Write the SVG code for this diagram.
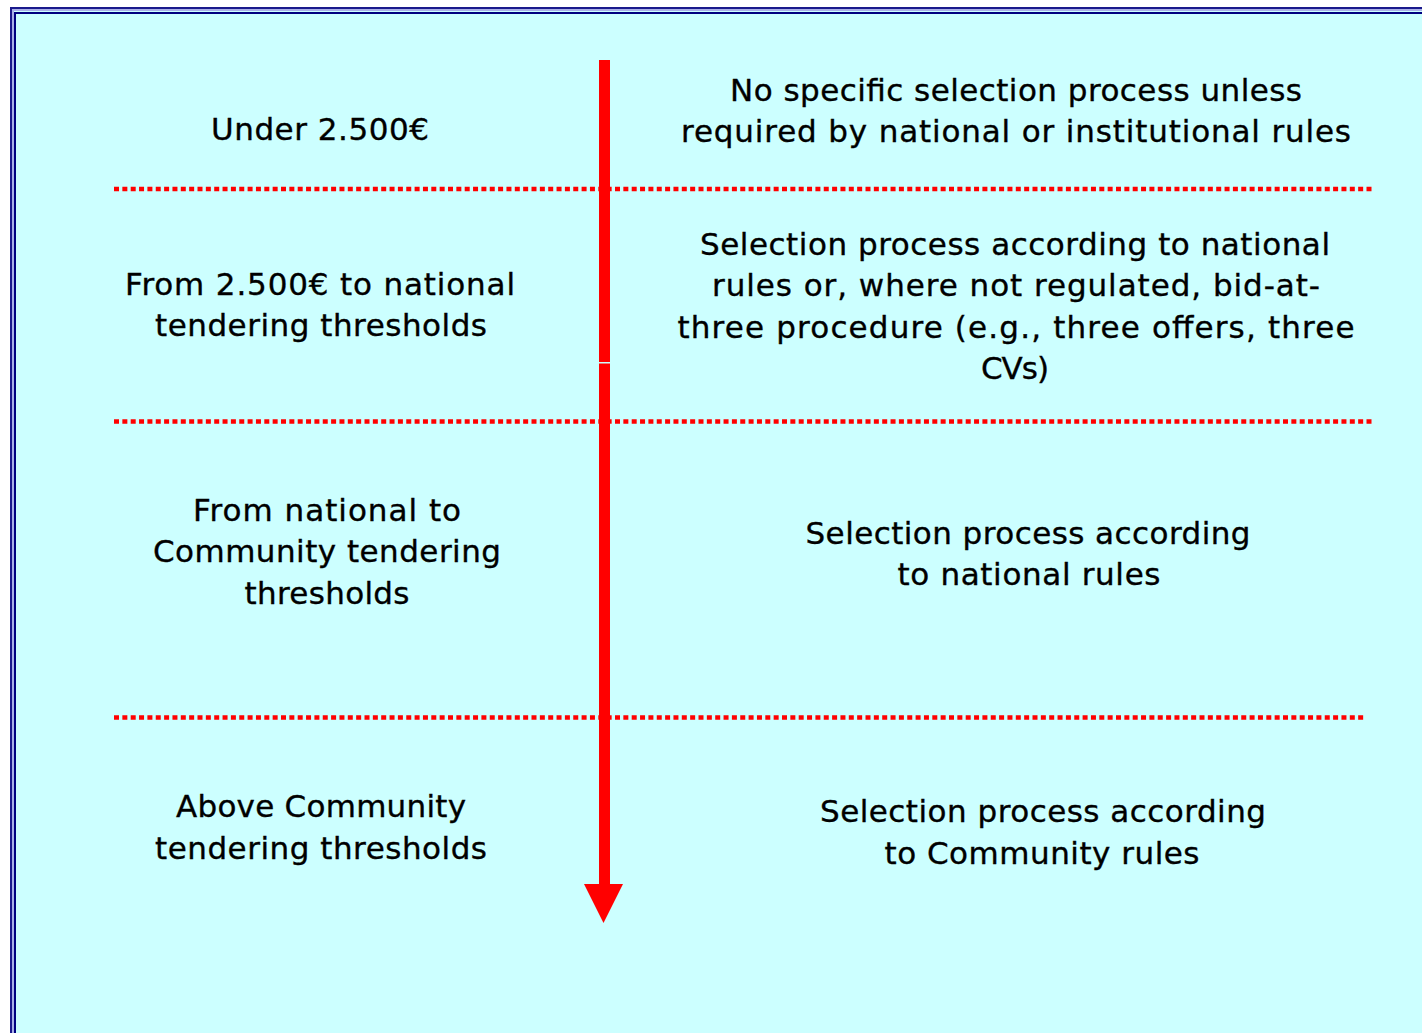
<svg xmlns="http://www.w3.org/2000/svg" width="1422" height="1033" viewBox="0 0 1422 1033">
  <style>
    .lbl { font-family: "DejaVu Sans", Verdana, sans-serif; font-size: 31px; fill: #000; stroke: #000; stroke-width: 0.35; text-anchor: middle; }
    .sep { stroke: #ff0000; stroke-width: 4.5; stroke-dasharray: 5 3.35; fill: none; }
  </style>

  <!-- page background and double frame -->
  <rect x="0" y="0" width="1422" height="1033" fill="#ffffff"/>
  <rect x="10" y="7" width="1420" height="1040" fill="#ccffff"/>
  <rect x="11" y="8" width="1420" height="1040" fill="none" stroke="#1a1a8c" stroke-width="2"/>
  <rect x="13" y="10" width="1420" height="1040" fill="none" stroke="#aab0e8" stroke-width="2"/>
  <rect x="15" y="13" width="1420" height="1040" fill="none" stroke="#000080" stroke-width="2"/>

  <!-- connectors: value scale arrow and band separators -->
  <g id="connectors">
    <rect x="599" y="60" width="11" height="302" fill="#ff0000"/>
    <rect x="599" y="363.5" width="11" height="521" fill="#ff0000"/>
    <path d="M584,884 L623,884 L603.5,923 Z" fill="#ff0000"/>
    <line class="sep" x1="114" y1="189" x2="1373" y2="189"/>
    <line class="sep" x1="114" y1="421.5" x2="1373" y2="421.5"/>
    <line class="sep" x1="114" y1="717.5" x2="1364" y2="717.5"/>
  </g>

  <g id="band-under-2500">
    <text class="lbl" x="320" y="140" textLength="218" lengthAdjust="spacing">Under 2.500€</text>
  </g>
  <g id="rule-under-2500">
    <text class="lbl" x="1016" y="101" textLength="572" lengthAdjust="spacing">No specific selection process unless</text>
    <text class="lbl" x="1016" y="142" textLength="670" lengthAdjust="spacing">required by national or institutional rules</text>
  </g>

  <g id="band-2500-national">
    <text class="lbl" x="320" y="295" textLength="390" lengthAdjust="spacing">From 2.500€ to national</text>
    <text class="lbl" x="321" y="336" textLength="332" lengthAdjust="spacing">tendering thresholds</text>
  </g>
  <g id="rule-2500-national">
    <text class="lbl" x="1015" y="255" textLength="630" lengthAdjust="spacing">Selection process according to national</text>
    <text class="lbl" x="1016" y="296" textLength="608" lengthAdjust="spacing">rules or, where not regulated, bid-at-</text>
    <text class="lbl" x="1016" y="338" textLength="677" lengthAdjust="spacing">three procedure (e.g., three offers, three</text>
    <text class="lbl" x="1015" y="379" textLength="68" lengthAdjust="spacing">CVs)</text>
  </g>

  <g id="band-national-community">
    <text class="lbl" x="327" y="521" textLength="268" lengthAdjust="spacing">From national to</text>
    <text class="lbl" x="327" y="562" textLength="348" lengthAdjust="spacing">Community tendering</text>
    <text class="lbl" x="327" y="604" textLength="165" lengthAdjust="spacing">thresholds</text>
  </g>
  <g id="rule-national-community">
    <text class="lbl" x="1028" y="544" textLength="445" lengthAdjust="spacing">Selection process according</text>
    <text class="lbl" x="1029" y="585" textLength="263" lengthAdjust="spacing">to national rules</text>
  </g>

  <g id="band-above-community">
    <text class="lbl" x="321" y="817" textLength="290" lengthAdjust="spacing">Above Community</text>
    <text class="lbl" x="321" y="859" textLength="332" lengthAdjust="spacing">tendering thresholds</text>
  </g>
  <g id="rule-above-community">
    <text class="lbl" x="1043" y="822" textLength="446" lengthAdjust="spacing">Selection process according</text>
    <text class="lbl" x="1042" y="864" textLength="315" lengthAdjust="spacing">to Community rules</text>
  </g>
</svg>
